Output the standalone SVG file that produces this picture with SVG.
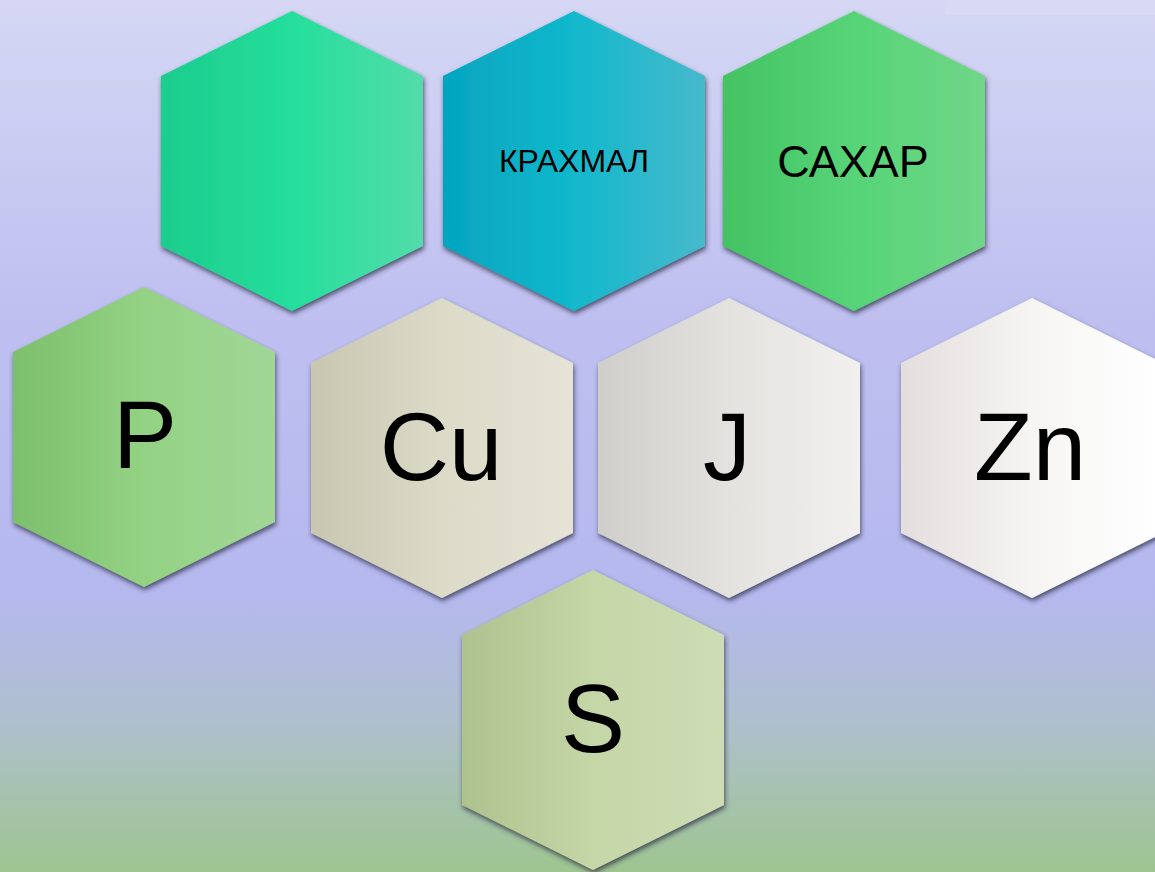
<svg xmlns="http://www.w3.org/2000/svg" xmlns:xlink="http://www.w3.org/1999/xlink" width="1155" height="872" viewBox="0 0 1155 872">
  <defs>
    <linearGradient id="bg" x1="0" y1="0" x2="0" y2="1">
      <stop offset="0" stop-color="#d5d7f4"/>
      <stop offset="0.35" stop-color="#bfc0f0"/>
      <stop offset="0.68" stop-color="#b5b8ee"/>
      <stop offset="0.82" stop-color="#afbfd0"/>
      <stop offset="1" stop-color="#9ec590"/>
    </linearGradient>
    <linearGradient id="g1" x1="0" y1="0" x2="1" y2="0">
      <stop offset="0" stop-color="#1ccd8d"/>
      <stop offset="0.5" stop-color="#25de9c"/>
      <stop offset="1" stop-color="#52dcaa"/>
    </linearGradient>
    <linearGradient id="g2" x1="0" y1="0" x2="1" y2="0">
      <stop offset="0" stop-color="#04a5bf"/>
      <stop offset="0.5" stop-color="#12b8cc"/>
      <stop offset="1" stop-color="#47b9cc"/>
    </linearGradient>
    <linearGradient id="g3" x1="0" y1="0" x2="1" y2="0">
      <stop offset="0" stop-color="#44c363"/>
      <stop offset="0.5" stop-color="#56d477"/>
      <stop offset="1" stop-color="#70d688"/>
    </linearGradient>
    <linearGradient id="gP" x1="0" y1="0" x2="1" y2="0">
      <stop offset="0" stop-color="#7cbf6c"/>
      <stop offset="0.5" stop-color="#93d283"/>
      <stop offset="1" stop-color="#a1d696"/>
    </linearGradient>
    <linearGradient id="gCu" x1="0" y1="0" x2="1" y2="0">
      <stop offset="0" stop-color="#c8c6b0"/>
      <stop offset="0.5" stop-color="#dcdbc8"/>
      <stop offset="1" stop-color="#e4e3d6"/>
    </linearGradient>
    <linearGradient id="gJ" x1="0" y1="0" x2="1" y2="0">
      <stop offset="0" stop-color="#cfcecb"/>
      <stop offset="0.5" stop-color="#e3e2df"/>
      <stop offset="1" stop-color="#f1f0ee"/>
    </linearGradient>
    <linearGradient id="gZn" x1="0" y1="0" x2="1" y2="0">
      <stop offset="0" stop-color="#e2dedd"/>
      <stop offset="0.5" stop-color="#f6f5f4"/>
      <stop offset="1" stop-color="#ffffff"/>
    </linearGradient>
    <linearGradient id="gS" x1="0" y1="0" x2="1" y2="0">
      <stop offset="0" stop-color="#aec28e"/>
      <stop offset="0.5" stop-color="#c5d6a7"/>
      <stop offset="1" stop-color="#cddcb4"/>
    </linearGradient>
    <filter id="shadow" x="-10%" y="-10%" width="125%" height="125%">
      <feDropShadow dx="1" dy="3" stdDeviation="2.5" flood-color="#2a2a40" flood-opacity="0.75"/>
    </filter>
    <polygon id="hex" points="0,-150 131,-85 131,85 0,150 -131,85 -131,-85"/>
  </defs>
  <style>
    .hex { filter: url(#shadow); }
    .lbl { font-family: "Liberation Sans", Arial, sans-serif; fill: #000; text-anchor: middle; }
    .big { font-size: 96px; }
  </style>
  <rect width="1155" height="872" fill="url(#bg)"/>
  <rect x="945" y="0" width="210" height="15" fill="#d8dbf2" opacity="0.8"/>

  <g id="hex-empty">
    <use xlink:href="#hex" href="#hex" class="hex" transform="translate(292,161)" fill="url(#g1)"/>
  </g>
  <g id="hex-krakhmal">
    <use xlink:href="#hex" href="#hex" class="hex" transform="translate(574,161)" fill="url(#g2)"/>
    <text class="lbl" x="574" y="172" font-size="32">КРАХМАЛ</text>
  </g>
  <g id="hex-sakhar">
    <use xlink:href="#hex" href="#hex" class="hex" transform="translate(854,161)" fill="url(#g3)"/>
    <text class="lbl" x="853" y="177" font-size="45">САХАР</text>
  </g>
  <g id="hex-p">
    <use xlink:href="#hex" href="#hex" class="hex" transform="translate(144,437)" fill="url(#gP)"/>
    <text class="lbl big" x="145" y="468">P</text>
  </g>
  <g id="hex-cu">
    <use xlink:href="#hex" href="#hex" class="hex" transform="translate(442,448)" fill="url(#gCu)"/>
    <text class="lbl big" x="441" y="480">Cu</text>
  </g>
  <g id="hex-j">
    <use xlink:href="#hex" href="#hex" class="hex" transform="translate(729,448)" fill="url(#gJ)"/>
    <text class="lbl big" x="727" y="480">J</text>
  </g>
  <g id="hex-zn">
    <use xlink:href="#hex" href="#hex" class="hex" transform="translate(1032,448)" fill="url(#gZn)"/>
    <text class="lbl big" x="1030" y="480">Zn</text>
  </g>
  <g id="hex-s">
    <use xlink:href="#hex" href="#hex" class="hex" transform="translate(593,720)" fill="url(#gS)"/>
    <text class="lbl big" x="593" y="752">S</text>
  </g>
  <g id="connectors"></g>
</svg>
